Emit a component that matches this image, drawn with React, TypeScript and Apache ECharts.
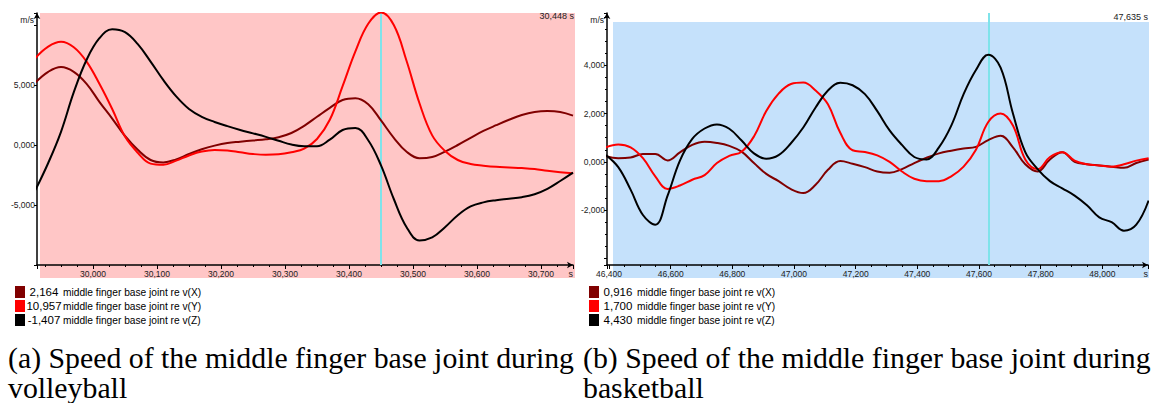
import React, { useEffect, useRef } from "react";
import * as echarts from "echarts";

// ---------- volleyball (a) ----------
const timesA = [
  29.91, 29.93, 29.95, 29.97, 29.99, 30.01, 30.03, 30.05, 30.07, 30.09,
  30.11, 30.13, 30.15, 30.17, 30.19, 30.21, 30.23, 30.25, 30.27, 30.29,
  30.31, 30.33, 30.35, 30.37, 30.39, 30.41, 30.43, 30.45, 30.47, 30.49,
  30.51, 30.53, 30.55, 30.57, 30.59, 30.61, 30.63, 30.65, 30.67, 30.69,
  30.71, 30.73, 30.75,
];
const vxA = [
  5.2, 6.1, 6.5, 6.1, 5.1, 3.6, 2.2, 0.75, -0.4, -1.25,
  -1.45, -1.2, -0.75, -0.35, -0.05, 0.17, 0.28, 0.38, 0.48, 0.65,
  1.0, 1.6, 2.35, 3.1, 3.75, 3.9, 3.4, 2.05, 0.6, -0.56,
  -1.1, -1.0, -0.55, 0.0, 0.6, 1.17, 1.65, 2.1, 2.5, 2.75,
  2.83, 2.75, 2.45,
];
const vyA = [
  7.25, 8.2, 8.6, 8.15, 6.95, 5.1, 3.0, 0.7, -0.65, -1.55,
  -1.65, -1.3, -0.87, -0.55, -0.42, -0.45, -0.6, -0.75, -0.82, -0.78,
  -0.6, -0.3, 0.5, 2.1, 4.9, 7.8, 10.1, 11.05, 10.0, 7.0,
  3.5, 0.8, -0.5, -1.25, -1.58, -1.72, -1.82, -1.87, -1.92, -2.0,
  -2.15, -2.27, -2.36,
];
const vzA = [
  -3.75, -1.5, 1.1, 4.4, 7.1, 8.9, 9.65, 9.4, 8.4, 6.95,
  5.4, 4.05, 3.0, 2.35, 1.92, 1.57, 1.25, 0.97, 0.68, 0.35,
  0.04, -0.1, -0.1, 0.45, 1.25, 1.42, 0.4, -1.7, -4.5, -6.85,
  -7.95, -7.7, -6.85, -5.85, -5.12, -4.78, -4.6, -4.48, -4.35, -4.1,
  -3.65, -3.0, -2.3,
];
const cursorA = 30.448;
const legendValsA = ["2,164", "10,957", "-1,407"];

// ---------- basketball (b) ----------
const timesB = [
  46.39, 46.43, 46.47, 46.51, 46.55, 46.59, 46.63, 46.67, 46.71, 46.75,
  46.79, 46.83, 46.87, 46.91, 46.95, 46.99, 47.03, 47.07, 47.11, 47.15,
  47.19, 47.23, 47.27, 47.31, 47.35, 47.39, 47.43, 47.47, 47.51, 47.55,
  47.59, 47.63, 47.67, 47.71, 47.75, 47.79, 47.83, 47.87, 47.91, 47.95,
  47.99, 48.03, 48.07, 48.11, 48.15,
];
const vxB = [
  0.23, 0.15, 0.18, 0.32, 0.32, 0.06, 0.39, 0.7, 0.83, 0.78,
  0.66, 0.42, -0.05, -0.5, -0.8, -1.13, -1.29, -0.95, -0.33, 0.03,
  -0.08, -0.22, -0.4, -0.45, -0.3, -0.05, 0.17, 0.35, 0.46, 0.55,
  0.62, 0.9, 1.08, 0.6, -0.1, -0.4, 0.1, 0.4, 0.0, -0.1,
  -0.15, -0.2, -0.25, -0.05, 0.1,
];
const vyB = [
  0.6, 0.72, 0.6, 0.15, -0.6, -1.12, -0.98, -0.74, -0.55, -0.05,
  0.25, 0.42, 1.05, 2.1, 2.82, 3.22, 3.28, 2.95, 2.38, 1.2,
  0.48, 0.41, 0.27, 0.0, -0.4, -0.7, -0.8, -0.8, -0.6, -0.2,
  0.5, 1.65, 2.0, 1.5, 0.1, -0.3, 0.2, 0.4, 0.05, -0.1,
  -0.15, -0.2, -0.1, 0.05, 0.15,
];
const vzB = [
  0.28, -0.22, -1.15, -2.2, -2.6, -1.4, 0.05, 0.95, 1.38, 1.55,
  1.37, 0.88, 0.35, 0.13, 0.28, 0.77, 1.42, 2.25, 2.95, 3.27,
  3.17, 2.8, 2.1, 1.3, 0.7, 0.2, 0.1, 0.6, 1.5, 2.8,
  3.8, 4.43, 3.9, 2.0, 0.4, -0.3, -0.8, -1.1, -1.4, -1.8,
  -2.3, -2.5, -2.85, -2.6, -1.6,
];
const cursorB = 47.635;
const legendValsB = ["0,916", "1,700", "4,430"];

const seriesNames = [
  "middle finger base joint re v(X)",
  "middle finger base joint re v(Y)",
  "middle finger base joint re v(Z)",
];
const seriesColors = ["#800000", "#ff0000", "#000000"];
const yLabelsA = [-5, 0, 5];
const yLabelsB = [-2, 0, 2, 4];
const captionA = ["(a) Speed of the middle finger base joint during", "volleyball"];
const captionB = ["(b) Speed of the middle finger base joint during", "basketball"];

const fmt = (v: number) => v.toFixed(3).replace(".", ",");
const sansFont = "Liberation Sans";

export default function App() {
  const ref = useRef<HTMLDivElement>(null);
  useEffect(() => {
    if (!ref.current) return;
    const chart = echarts.init(ref.current, undefined, { renderer: "svg" });

    const xAxisBase = (gridIndex: number, min: number, max: number) => ({
      type: "value",
      gridIndex,
      min,
      max,
      splitNumber: 8,
      name: "s",
      nameLocation: "end",
      nameGap: 0,
      nameTextStyle: {
        align: "right",
        verticalAlign: "top",
        padding: [4, 0, 0, 0],
        fontFamily: sansFont,
        fontSize: 9,
        color: "#222",
      },
      axisLine: {
        show: true,
        onZero: false,
        lineStyle: { color: "#000", width: 1.5 },
        symbol: ["none", "arrow"],
        symbolSize: [5, 6],
      },
      axisTick: { show: true, length: 4, lineStyle: { color: "#000" } },
      minorTick: { show: true, splitNumber: 4, length: 2, lineStyle: { color: "#000" } },
      splitLine: { show: false },
      axisLabel: {
        showMinLabel: false,
        showMaxLabel: false,
        margin: 4,
        fontFamily: sansFont,
        fontSize: 8.5,
        color: "#222",
        formatter: (v: number) => fmt(v),
      },
    });

    const yAxisBase = (
      gridIndex: number,
      min: number,
      max: number,
      labels: number[],
      minor: boolean,
      interval?: number
    ) => ({
      type: "value",
      gridIndex,
      min,
      max,
      ...(interval ? { interval } : { splitNumber: 5 }),
      name: "m/s",
      nameLocation: "end",
      nameGap: 0,
      nameTextStyle: {
        align: "right",
        verticalAlign: "top",
        padding: [2, 3, 0, 0],
        fontFamily: sansFont,
        fontSize: 8.5,
        color: "#222",
      },
      axisLine: {
        show: true,
        onZero: false,
        lineStyle: { color: "#000", width: 1.5 },
        symbol: ["none", "arrow"],
        symbolSize: [5, 6],
      },
      axisTick: { show: true, length: 3, lineStyle: { color: "#000" } },
      minorTick: { show: minor, splitNumber: 4, length: 2, lineStyle: { color: "#000" } },
      splitLine: { show: false },
      axisLabel: {
        margin: 2,
        fontFamily: sansFont,
        fontSize: 8.5,
        color: "#222",
        formatter: (v: number) =>
          labels.some((l) => Math.abs(l - v) < 1e-6) ? fmt(v) : "",
      },
    });

    const mkSeries = (
      times: number[],
      vals: number[],
      idx: number,
      axisIndex: number,
      cursor: number | null
    ) => ({
      type: "line",
      name: (axisIndex === 0 ? "a" : "b") + idx,
      xAxisIndex: axisIndex,
      yAxisIndex: axisIndex,
      data: times.map((t, i) => [t, vals[i]]),
      smooth: 0.4,
      symbol: "none",
      lineStyle: { color: seriesColors[idx], width: 2 },
      itemStyle: { color: seriesColors[idx] },
      z: 3 + idx,
      ...(cursor !== null
        ? {
            markLine: {
              silent: true,
              symbol: ["none", "none"],
              label: { show: false },
              lineStyle: { color: "#7fe3ea", width: 2, type: "solid" },
              data: [{ xAxis: cursor }],
              z: 2,
            },
          }
        : {}),
    });

    const legendBase = (left: number, prefix: string, vals: string[]) => ({
      show: true,
      orient: "vertical",
      left,
      top: 281,
      itemWidth: 10,
      itemHeight: 12,
      itemGap: 2,
      icon: "rect",
      selectedMode: false,
      data: [0, 1, 2].map((i) => ({ name: prefix + i, icon: "rect" })),
      formatter: (name: string) => {
        const i = Number(name.slice(1));
        return `{v|${vals[i]}}{n|${seriesNames[i]}}`;
      },
      textStyle: {
        fontFamily: sansFont,
        fontSize: 10.5,
        color: "#000",
        rich: {
          v: { width: 28, align: "right", fontFamily: sansFont, fontSize: 11.5, color: "#000" },
          n: { padding: [0, 0, 0, 5], fontFamily: sansFont, fontSize: 10.2, color: "#000" },
        },
      },
    });

    const captionText = (x: number, lines: string[]) =>
      lines.map((txt, i) => ({
        type: "text",
        left: x,
        top: 342 + i * 30,
        style: {
          text: txt,
          fontFamily: "Liberation Serif",
          fontSize: 29.8,
          fill: "#000",
        },
      }));

    chart.setOption({
      animation: false,
      grid: [
        { left: 37, top: 13, width: 536, height: 252, containLabel: false },
        { left: 607, top: 13, width: 541, height: 252, containLabel: false },
      ],
      xAxis: [xAxisBase(0, 29.9125, 30.75), xAxisBase(1, 46.3935, 48.148)],
      yAxis: [
        yAxisBase(0, -10, 11, yLabelsA, false, 5),
        yAxisBase(1, -4.27, 6.16, yLabelsB, true),
      ],
      legend: [legendBase(10, "a", legendValsA), legendBase(584, "b", legendValsB)],
      series: [
        mkSeries(timesA, vxA, 0, 0, cursorA),
        mkSeries(timesA, vyA, 1, 0, null),
        mkSeries(timesA, vzA, 2, 0, null),
        mkSeries(timesB, vxB, 0, 1, cursorB),
        mkSeries(timesB, vyB, 1, 1, null),
        mkSeries(timesB, vzB, 2, 1, null),
      ],
      graphic: [
        {
          type: "rect",
          z: -10,
          silent: true,
          shape: { x: 40, y: 13, width: 535, height: 265 },
          style: { fill: "#ffc6c6" },
        },
        {
          type: "rect",
          z: -10,
          silent: true,
          shape: { x: 613, y: 22, width: 536, height: 256 },
          style: { fill: "#c5e1fb" },
        },
        {
          type: "text",
          right: 1151 - 574,
          top: 11,
          style: { text: fmt(cursorA) + " s", fontFamily: sansFont, fontSize: 9, fill: "#222" },
        },
        {
          type: "text",
          right: 3,
          top: 12,
          style: { text: fmt(cursorB) + " s", fontFamily: sansFont, fontSize: 9, fill: "#222" },
        },
        ...captionText(8, captionA),
        ...captionText(583, captionB),
      ],
    });
    return () => chart.dispose();
  }, []);
  return (
    <div
      ref={ref}
      style={{ position: "absolute", left: 0, top: 0, width: 1151, height: 403 }}
    />
  );
}
